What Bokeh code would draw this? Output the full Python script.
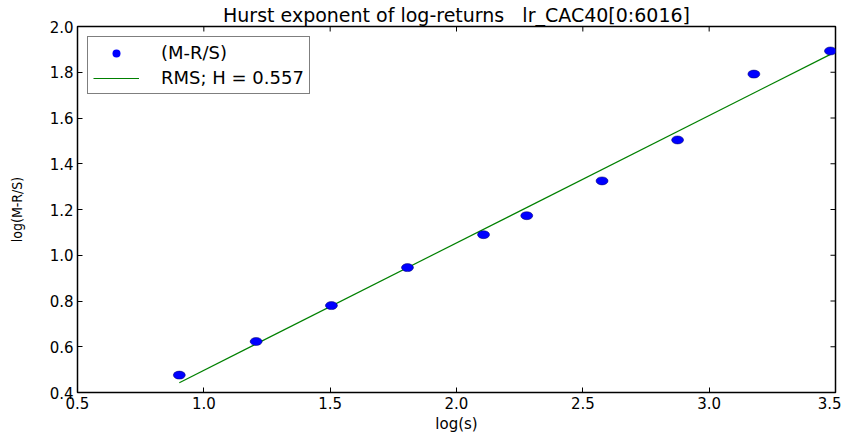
import math
from bokeh.plotting import figure
from bokeh.models import (Range1d, FixedTicker, Legend, LegendItem,
                          ColumnDataSource, PrintfTickFormatter)
from bokeh.embed import file_html
from bokeh.resources import INLINE

# ---- data ----
log_s = [0.903, 1.207, 1.505, 1.806, 2.107, 2.278, 2.576, 2.875, 3.177, 3.480]
log_mrs = [0.476, 0.623, 0.780, 0.946, 1.090, 1.173, 1.325, 1.504, 1.792, 1.893]
fit_x = [0.903, 3.480]
fit_y = [0.443, 1.878]
x_ticks = [0.5, 1.0, 1.5, 2.0, 2.5, 3.0, 3.5]
y_ticks = [0.4, 0.6, 0.8, 1.0, 1.2, 1.4, 1.6, 1.8, 2.0]
title_text = "Hurst exponent of log-returns\u00a0\u00a0\u00a0lr_CAC40[0:6016]"
points_label = "(M-R/S)"
fit_label = "RMS; H = 0.557"

FONT = "DejaVu Sans"
x_lo, x_hi = x_ticks[0], x_ticks[-1]
y_lo, y_hi = y_ticks[0], y_ticks[-1]

p = figure(frame_width=758, frame_height=366,
           x_range=Range1d(x_lo, x_hi), y_range=Range1d(y_lo, y_hi),
           output_backend="svg", toolbar_location=None,
           min_border_left=77, min_border_right=6,
           min_border_top=19, min_border_bottom=0)

p.background_fill_color = "white"
p.border_fill_color = "white"
p.outline_line_color = "black"
p.outline_line_width = 1.5
p.xgrid.visible = False
p.ygrid.visible = False

p.title.text = title_text
p.title.align = "center"
p.title.text_font = FONT
p.title.text_font_size = "19px"
p.title.text_font_style = "normal"
p.title.text_color = "black"
p.title.standoff = 2


def style_axis(ax, ticks):
    ax.ticker = FixedTicker(ticks=ticks)
    ax.formatter = PrintfTickFormatter(format="%.1f")
    ax.axis_line_color = None
    ax.major_tick_in = 5
    ax.major_tick_out = 0
    ax.major_tick_line_color = "black"
    ax.minor_tick_line_color = None
    ax.major_label_text_font = FONT
    ax.major_label_text_font_size = "15px"
    ax.major_label_text_color = "black"
    ax.major_label_standoff = 4


style_axis(p.xaxis[0], x_ticks)
style_axis(p.yaxis[0], y_ticks)

p.xaxis.axis_label = "log(s)"
p.xaxis.axis_label_text_font = FONT
p.xaxis.axis_label_text_font_size = "15px"
p.xaxis.axis_label_text_font_style = "normal"
p.xaxis.axis_label_text_color = "black"
p.xaxis.axis_label_standoff = 3

p.yaxis.axis_label = "log(M-R/S)"
p.yaxis.axis_label_text_font = "DejaVu Sans Condensed"
p.yaxis.axis_label_text_font_size = "14px"
p.yaxis.axis_label_text_font_style = "normal"
p.yaxis.axis_label_text_color = "black"
p.yaxis.axis_label_standoff = 22

# inward ticks on the top and right frame edges
p.ray(x=x_ticks, y=[y_hi] * len(x_ticks), length=5, length_units="screen",
      angle=-math.pi / 2, line_color="black", line_width=1)
p.ray(x=[x_hi] * len(y_ticks), y=y_ticks, length=5, length_units="screen",
      angle=math.pi, line_color="black", line_width=1)

src = ColumnDataSource(dict(x=log_s, y=log_mrs))
fit_src = ColumnDataSource(dict(x=fit_x, y=fit_y))

r_fit = p.line(x="x", y="y", source=fit_src, line_color="#008000", line_width=1.2)
p.ellipse(x="x", y="y", source=src, width=12, height=8,
          width_units="screen", height_units="screen",
          fill_color="#0000ff", line_color="#000060", line_width=0.5)
# proxy renderer (size 0 on the plot) that gives the legend its dot
r_dot = p.scatter(x="x", y="y", source=src, marker="circle", size=0,
                  fill_color="#0000ff", line_color=None)

legend = Legend(items=[LegendItem(label=points_label, renderers=[r_dot]),
                       LegendItem(label=fit_label, renderers=[r_fit])],
                location="top_left", margin=10, padding=5, spacing=4,
                glyph_width=46, glyph_height=20, label_height=20,
                label_standoff=22,
                label_text_font=FONT, label_text_font_size="18px",
                label_text_color="black",
                border_line_color="black", border_line_width=1,
                background_fill_color="white", background_fill_alpha=1.0)
p.add_layout(legend, "center")

open("out.html", "w").write(file_html(p, INLINE))
